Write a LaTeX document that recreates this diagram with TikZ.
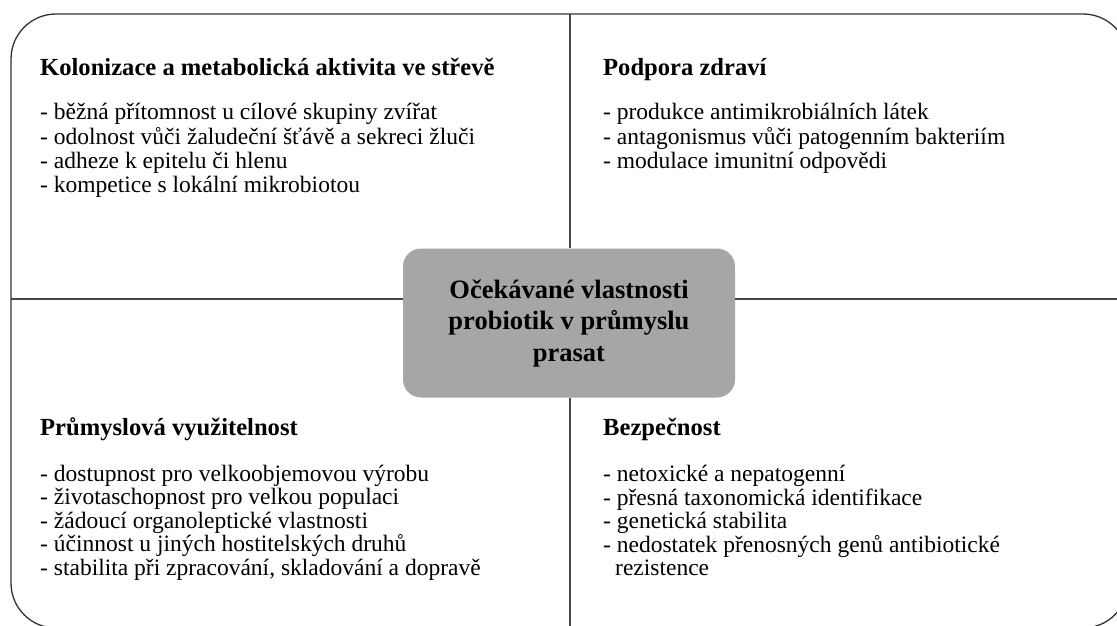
\documentclass[tikz,border=0pt]{standalone}
\usepackage{fontspec}
\setmainfont{Liberation Serif}
\definecolor{boxgray}{HTML}{A6A6A6}
\begin{document}
\begin{tikzpicture}[x=1pt,y=-1pt,
  item/.style={anchor=base west,inner sep=0pt,font=\fontsize{23.5}{24}\selectfont},
  head/.style={anchor=base west,inner sep=0pt,font=\fontsize{24.6}{26}\selectfont\bfseries},
  divider/.style={draw=black!72,line width=1.4pt},
  frame/.style={draw=black!80,line width=1.3pt,rounded corners=45pt},
  core/.style={fill=boxgray,rounded corners=18pt,minimum width=332pt,minimum height=149pt,inner sep=0pt,align=center,font=\fontsize{26.5}{31.5}\selectfont\bfseries}]
\useasboundingbox (0,0) rectangle (1117,626);
\clip (0,0) rectangle (1117,626);
\draw[frame] (11,14) rectangle (1128,628);
\node[core] (core) at (569,323) {Očekávané vlastnosti\\probiotik v průmyslu\\prasat};
\coordinate (top) at (570,14);
\coordinate (bot) at (570,626);
\coordinate (lft) at (11,299);
\coordinate (rgt) at (1117,299);
\draw[divider] (top) -- (top |- core.north);
\draw[divider] (bot) -- (bot |- core.south);
\draw[divider] (lft) -- (lft -| core.west);
\draw[divider] (rgt) -- (rgt -| core.east);
% top left
\node[head] (h1) at (40,76) {Kolonizace a metabolická aktivita ve střevě};
\node[item] (a1) at (40,120) {- běžná přítomnost u cílové skupiny zvířat};
\node[item] (a2) at (40,144) {- odolnost vůči žaludeční šťávě a sekreci žluči};
\node[item] (a3) at (40,168) {- adheze k epitelu či hlenu};
\node[item] (a4) at (40,192) {- kompetice s lokální mikrobiotou};
% top right
\node[head] (h2) at (603,76) {Podpora zdraví};
\node[item] (b1) at (603,120) {- produkce antimikrobiálních látek};
\node[item] (b2) at (603,144) {- antagonismus vůči patogenním bakteriím};
\node[item] (b3) at (603,168) {- modulace imunitní odpovědi};
% bottom left
\node[head] (h3) at (40,435) {Průmyslová využitelnost};
\node[item] (c1) at (40,481) {- dostupnost pro velkoobjemovou výrobu};
\node[item] (c2) at (40,504.6) {- životaschopnost pro velkou populaci};
\node[item] (c3) at (40,528.2) {- žádoucí organoleptické vlastnosti};
\node[item] (c4) at (40,551.8) {- účinnost u jiných hostitelských druhů};
\node[item] (c5) at (40,575.4) {- stabilita při zpracování, skladování a dopravě};
% bottom right
\node[head] (h4) at (603,435) {Bezpečnost};
\node[item] (d1) at (603,481.5) {- netoxické a nepatogenní};
\node[item] (d2) at (603,505) {- přesná taxonomická identifikace};
\node[item] (d3) at (603,528.5) {- genetická stabilita};
\node[item] (d4) at (603,552) {- nedostatek přenosných genů antibiotické};
\node[item] (d5) at (615,575.5) {rezistence};
\end{tikzpicture}
\end{document}
